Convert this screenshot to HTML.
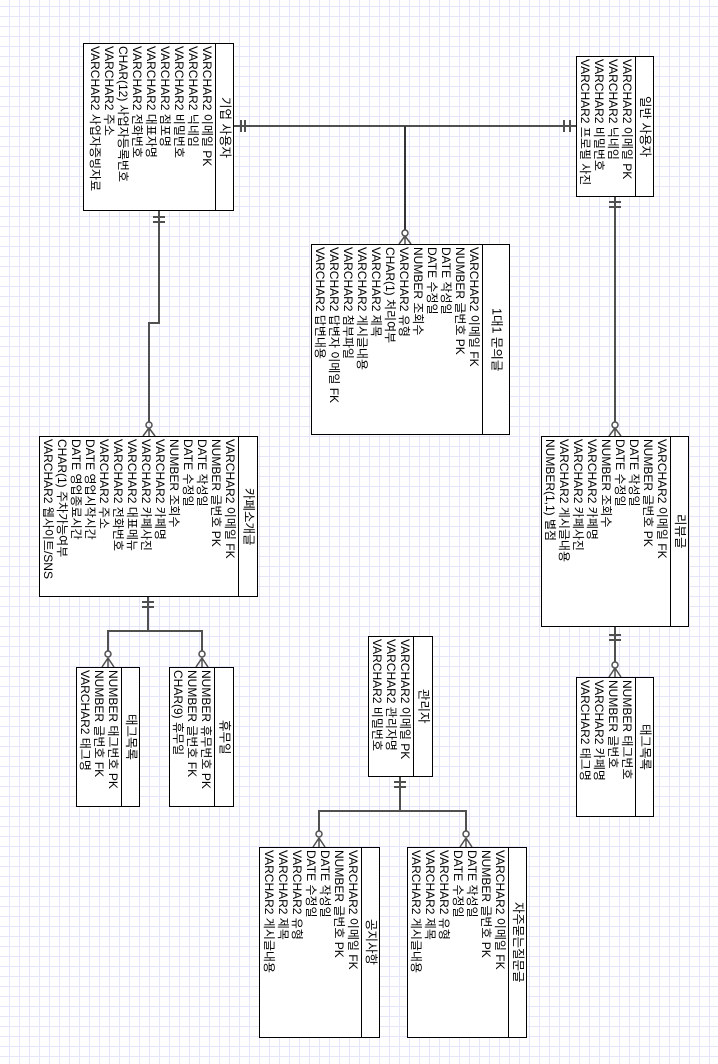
<!DOCTYPE html>
<html><head><meta charset="utf-8"><style>
html,body{margin:0;padding:0}
body{width:718px;height:1064px;position:relative;overflow:hidden;background-color:#fff;
background-image:linear-gradient(#e6e6fa 1px,transparent 1px),linear-gradient(90deg,#e6e6fa 1px,transparent 1px);
background-size:10px 10px;background-position:9px 6px;
font-family:"Liberation Sans","Noto Sans CJK KR",sans-serif;font-size:12px;color:#000}
.box{position:absolute;border:1px solid #000;background:#fff;box-sizing:border-box}
.t{position:absolute;top:0;bottom:0;right:0;border-left:1px solid #000;writing-mode:vertical-rl;text-orientation:sideways;text-align:center;line-height:1;display:flex;align-items:center;justify-content:center;font-size:12.5px}
.f{position:absolute;top:2px;writing-mode:vertical-rl;text-orientation:sideways;line-height:14px;white-space:nowrap}
svg{position:absolute;left:0;top:0}
</style></head><body>
<svg width="718" height="1064" fill="none" stroke="#505050" stroke-width="2">
<line x1="234" y1="126" x2="576" y2="126"/>
<line x1="241" y1="120" x2="241" y2="132"/><line x1="245" y1="120" x2="245" y2="132"/>
<line x1="564" y1="120" x2="564" y2="132"/><line x1="570" y1="120" x2="570" y2="132"/>
<line x1="405" y1="126" x2="405" y2="230" stroke="#333"/>
<circle cx="405" cy="233" r="3" stroke-width="1.5"/>
<path d="M405 236L399 244M405 236L405 244M405 236L411 244" stroke-width="1.5"/>
<path d="M159 211V323H149V422"/>
<line x1="153" y1="217" x2="165" y2="217"/><line x1="153" y1="222" x2="165" y2="222"/>
<circle cx="149" cy="425" r="3" stroke-width="1.5"/>
<path d="M149 428L143 436M149 428L149 436M149 428L155 436" stroke-width="1.5"/>
<line x1="615" y1="196" x2="615" y2="422"/>
<line x1="609" y1="202" x2="621" y2="202"/><line x1="609" y1="207" x2="621" y2="207"/>
<circle cx="615" cy="425" r="3" stroke-width="1.5"/>
<path d="M615 428L609 436M615 428L615 436M615 428L621 436" stroke-width="1.5"/>
<path d="M148 596V631M108 651V631H202V651"/>
<line x1="142" y1="602" x2="154" y2="602"/><line x1="142" y1="607" x2="154" y2="607"/>
<circle cx="108" cy="654" r="3" stroke-width="1.5"/><circle cx="202" cy="654" r="3" stroke-width="1.5"/>
<path d="M108 658L102 667M108 658L108 667M108 658L114 667M202 658L196 667M202 658L202 667M202 658L208 667" stroke-width="1.5"/>
<line x1="615" y1="626" x2="615" y2="662"/>
<line x1="609" y1="635" x2="621" y2="635"/><line x1="609" y1="640" x2="621" y2="640"/>
<circle cx="615" cy="665" r="3" stroke-width="1.5"/>
<path d="M615 668L609 677M615 668L615 677M615 668L621 677" stroke-width="1.5"/>
<path d="M400 776V811M319 831V811H466V831"/>
<line x1="394" y1="782" x2="406" y2="782"/><line x1="394" y1="787" x2="406" y2="787"/>
<circle cx="319" cy="834" r="3" stroke-width="1.5"/><circle cx="466" cy="834" r="3" stroke-width="1.5"/>
<path d="M319 838L313 847M319 838L319 847M319 838L325 847M466 838L460 847M466 838L466 847M466 838L472 847" stroke-width="1.5"/>
</svg>

<div class="box" style="left:83px;top:43px;width:151px;height:168px"><div class="t" style="width:17px">기업 사용자</div><div class="f" style="right:19px">VARCHAR2 이메일 PK<br>VARCHAR2 닉네임<br>VARCHAR2 비밀번호<br>VARCHAR2 점포명<br>VARCHAR2 대표자명<br>VARCHAR2 전화번호<br>CHAR(12) 사업자등록번호<br>VARCHAR2 주소<br>VARCHAR2 사업자증빙자료</div></div>

<div class="box" style="left:576px;top:56px;width:78px;height:141px"><div class="t" style="width:17px">일반 사용자</div><div class="f" style="right:19px">VARCHAR2 이메일 PK<br>VARCHAR2 닉네임<br>VARCHAR2 비밀번호<br>VARCHAR2 프로필 사진</div></div>

<div class="box" style="left:311px;top:244px;width:199px;height:191px"><div class="t" style="width:26px">1대1 문의글</div><div class="f" style="right:28px">VARCHAR2 이메일 FK<br>NUMBER 글번호 PK<br>DATE 작성일<br>DATE 수정일<br>NUMBER 조회수<br>VARCHAR2 유형<br>CHAR(1) 처리여부<br>VARCHAR2 제목<br>VARCHAR2 게시글내용<br>VARCHAR2 첨부파일<br>VARCHAR2 답변자 이메일 FK<br>VARCHAR2 답변내용</div></div>

<div class="box" style="left:39px;top:436px;width:219px;height:161px"><div class="t" style="width:18px">카페소개글</div><div class="f" style="right:20px">VARCHAR2 이메일 FK<br>NUMBER 글번호 PK<br>DATE 작성일<br>DATE 수정일<br>NUMBER 조회수<br>VARCHAR2 카페명<br>VARCHAR2 카페사진<br>VARCHAR2 대표메뉴<br>VARCHAR2 전화번호<br>VARCHAR2 주소<br>DATE 영업시작시간<br>DATE 영업종료시간<br>CHAR(1) 주차가능여부<br>VARCHAR2 웹사이트/SNS</div></div>

<div class="box" style="left:76px;top:667px;width:64px;height:140px"><div class="t" style="width:17px">태그목록</div><div class="f" style="right:19px">NUMBER 태그번호 PK<br>NUMBER 글번호 FK<br>VARCHAR2 태그명</div></div>

<div class="box" style="left:169px;top:667px;width:65px;height:140px"><div class="t" style="width:18px">휴무일</div><div class="f" style="right:20px">NUMBER 휴무번호 PK<br>NUMBER 글번호 FK<br>CHAR(9) 휴무일</div></div>

<div class="box" style="left:541px;top:436px;width:148px;height:191px"><div class="t" style="width:17px">리뷰글</div><div class="f" style="right:19px">VARCHAR2 이메일 FK<br>NUMBER 글번호 PK<br>DATE 작성일<br>DATE 수정일<br>NUMBER 조회수<br>VARCHAR2 카페명<br>VARCHAR2 카페사진<br>VARCHAR2 게시글내용<br>NUMBER(1,1) 별점</div></div>

<div class="box" style="left:576px;top:677px;width:78px;height:140px"><div class="t" style="width:17px">태그목록</div><div class="f" style="right:19px">NUMBER 태그번호<br>NUMBER 글번호<br>VARCHAR2 카페명<br>VARCHAR2 태그명</div></div>

<div class="box" style="left:368px;top:636px;width:65px;height:141px"><div class="t" style="width:18px">관리자</div><div class="f" style="right:20px">VARCHAR2 이메일 PK<br>VARCHAR2 관리자명<br>VARCHAR2 비밀번호</div></div>

<div class="box" style="left:259px;top:847px;width:121px;height:191px"><div class="t" style="width:17px">공지사항</div><div class="f" style="right:19px">VARCHAR2 이메일 FK<br>NUMBER 글번호 PK<br>DATE 작성일<br>DATE 수정일<br>VARCHAR2 유형<br>VARCHAR2 제목<br>VARCHAR2 게시글내용</div></div>

<div class="box" style="left:407px;top:847px;width:120px;height:191px"><div class="t" style="width:17px">자주묻는질문글</div><div class="f" style="right:19px">VARCHAR2 이메일 FK<br>NUMBER 글번호 PK<br>DATE 작성일<br>DATE 수정일<br>VARCHAR2 유형<br>VARCHAR2 제목<br>VARCHAR2 게시글내용</div></div>
</body></html>
